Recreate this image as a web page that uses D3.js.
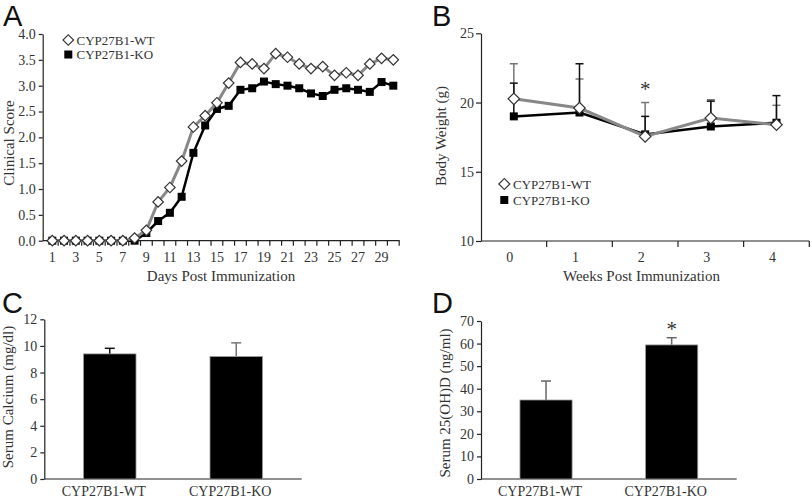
<!DOCTYPE html>
<html><head><meta charset="utf-8">
<script src="https://cdn.jsdelivr.net/npm/d3@7"></script>
<style>
body{margin:0;background:#fff;}
text{font-family:"Liberation Serif","Times New Roman",serif;fill:#333;}
.plab{font-family:"Liberation Sans",Arial,sans-serif;fill:#111;}
</style></head>
<body><svg id="c" width="812" height="500"></svg>
<script>
// ---- Panel A data ----
const days = d3.range(1, 31);
const dayLabels = [1,3,5,7,9,11,13,15,17,19,21,23,25,27,29];
const scoreWT = [0,0,0,0,0,0,0,0.05,0.2,0.75,1.03,1.54,2.2,2.42,2.67,3.05,3.45,3.42,3.33,3.62,3.55,3.42,3.33,3.37,3.2,3.25,3.2,3.42,3.53,3.5];
const scoreKO = [0,0,0,0,0,0,0,0,0.15,0.38,0.54,0.85,1.7,2.23,2.55,2.61,2.92,2.95,3.08,3.03,3.0,2.95,2.85,2.8,2.92,2.95,2.92,2.88,3.07,3.0];
const scoreTicks = [0,0.5,1,1.5,2,2.5,3,3.5,4];
// ---- Panel B data ----
const weeks = [0,1,2,3,4];
const weightWT = [20.27,19.6,17.55,18.88,18.4];
const weightKO = [19.0,19.28,17.7,18.27,18.54];
const weightWTTop = [22.8,21.7,20.0,20.2,19.8];
const weightKOTop = [21.4,22.8,19.0,20.1,20.5];
const weightTicks = [10,15,20,25];
// ---- Panel C/D data ----
const groups = ["CYP27B1-WT","CYP27B1-KO"];
const calcium = [9.4,9.2];
const calciumTop = [9.82,10.23];
const calciumTicks = [0,2,4,6,8,10,12];
const vitD = [35.0,59.4];
const vitDTop = [43.4,62.6];
const vitDTicks = [0,10,20,30,40,50,60,70];

const svg = d3.select("#c");
const AX = "#222";
const diamond = d3.symbol().type(d3.symbolSquare);

function styleAxis(g){
  g.select(".domain").attr("stroke", AX).attr("stroke-width",1.2);
  g.selectAll(".tick line").attr("stroke", AX).attr("stroke-width",1.2);
  g.selectAll(".tick text").attr("font-size",14).attr("fill","#333")
   .attr("font-family","Liberation Serif, serif");
}
function drawDiamond(g, x, y, d, stroke){
  g.append("path").attr("d", diamond.size(d*d/2)())
   .attr("transform",`translate(${x},${y}) rotate(45)`)
   .attr("fill","#fff").attr("stroke",stroke).attr("stroke-width",1.2);
}
function drawSquare(g,x,y,s){
  g.append("rect").attr("x",x-s/2).attr("y",y-s/2).attr("width",s).attr("height",s).attr("fill","#000");
}

// ================= Panel A =================
{
  const g = svg.append("g");
  const x = d3.scalePoint().domain(days).range([52.3, 393.3]);
  const y = d3.scaleLinear().domain([0,4]).range([240.7, 34]);
  const step = x.step();
  const ya = g.append("g").attr("transform","translate(42.7,0)")
    .call(d3.axisLeft(y).tickValues(scoreTicks).tickFormat(d3.format(".1f")).tickSize(4).tickPadding(3).tickSizeOuter(0));
  styleAxis(ya);
  g.append("line").attr("x1",42.7).attr("x2",x(30)+step/2+0.5).attr("y1",y(0)).attr("y2",y(0)).attr("stroke",AX).attr("stroke-width",1.2);
  g.selectAll(".xt").data(days).join("line")
    .attr("x1",d=>x(d)+step/2).attr("x2",d=>x(d)+step/2).attr("y1",y(0)).attr("y2",y(0)+5)
    .attr("stroke",AX).attr("stroke-width",1.2);
  g.selectAll(".xl").data(dayLabels).join("text")
    .attr("x",d=>x(d)).attr("y",262).attr("text-anchor","middle").attr("font-size",14).text(d=>d);
  g.append("text").attr("x",221).attr("y",281).attr("text-anchor","middle").attr("font-size",15).text("Days Post Immunization");
  g.append("text").attr("transform","translate(14,143) rotate(-90)").attr("text-anchor","middle").attr("font-size",15).text("Clinical Score");
  const line = d3.line().x((d,i)=>x(days[i])).y(d=>y(d));
  g.append("path").attr("d",line(scoreKO)).attr("fill","none").attr("stroke","#000").attr("stroke-width",2.5);
  scoreKO.forEach((v,i)=>drawSquare(g,x(days[i]),y(v),8));
  g.append("path").attr("d",line(scoreWT)).attr("fill","none").attr("stroke","#888").attr("stroke-width",3);
  scoreWT.forEach((v,i)=>drawDiamond(g,x(days[i]),y(v),10.5,"#333"));
  drawDiamond(g,68.3,40,10.5,"#333");
  g.append("text").attr("x",76.5).attr("y",44.5).attr("font-size",13).text(groups[0]);
  drawSquare(g,68.3,54.5,8);
  g.append("text").attr("x",76.5).attr("y",59).attr("font-size",13).text(groups[1]);
  svg.append("text").attr("class","plab").attr("x",3).attr("y",26).attr("font-size",29).text("A");
}

// ================= Panel B =================
{
  const g = svg.append("g");
  const x = d3.scaleBand().domain(weeks).range([481, 809.3]);
  const y = d3.scaleLinear().domain([10,25]).range([241, 33.3]);
  const cx = d => x(d) + x.bandwidth()/2;
  const ya = g.append("g").attr("transform","translate(481,0)")
    .call(d3.axisLeft(y).tickValues(weightTicks).tickSize(5).tickPadding(2).tickSizeOuter(0));
  styleAxis(ya);
  g.append("line").attr("x1",481).attr("x2",809.3).attr("y1",y(10)).attr("y2",y(10)).attr("stroke",AX).attr("stroke-width",1.2);
  g.selectAll(".xt").data(weeks).join("line")
    .attr("x1",d=>x(d)+x.bandwidth()).attr("x2",d=>x(d)+x.bandwidth()).attr("y1",y(10)).attr("y2",y(10)+6)
    .attr("stroke",AX).attr("stroke-width",1.2);
  g.selectAll(".xl").data(weeks).join("text")
    .attr("x",d=>cx(d)-4).attr("y",262).attr("text-anchor","middle").attr("font-size",14).text(d=>d);
  g.append("text").attr("x",641.5).attr("y",281).attr("text-anchor","middle").attr("font-size",15).text("Weeks Post Immunization");
  g.append("text").attr("transform","translate(446,136) rotate(-90)").attr("text-anchor","middle").attr("font-size",15).text("Body Weight (g)");
  function errbar(vals, tops, color){
    weeks.forEach((w,i)=>{
      g.append("line").attr("x1",cx(w)).attr("x2",cx(w)).attr("y1",y(vals[i])).attr("y2",y(tops[i])).attr("stroke",color).attr("stroke-width",1.5);
      g.append("line").attr("x1",cx(w)-4).attr("x2",cx(w)+4).attr("y1",y(tops[i])).attr("y2",y(tops[i])).attr("stroke",color).attr("stroke-width",1.5);
    });
  }
  errbar(weightWT, weightWTTop, "#777");
  errbar(weightKO, weightKOTop, "#111");
  const lineKO = d3.line().x((d,i)=>cx(weeks[i])).y(d=>y(d));
  g.append("path").attr("d",lineKO(weightKO)).attr("fill","none").attr("stroke","#000").attr("stroke-width",2.5);
  weightKO.forEach((v,i)=>drawSquare(g,cx(weeks[i]),y(v),8));
  g.append("path").attr("d",lineKO(weightWT)).attr("fill","none").attr("stroke","#888").attr("stroke-width",3);
  weightWT.forEach((v,i)=>drawDiamond(g,cx(weeks[i]),y(v),11.5,"#333"));
  g.append("text").attr("x",cx(2)).attr("y",y(21.2)+10).attr("text-anchor","middle").attr("font-size",21).text("*");
  drawDiamond(g,504.3,184,11,"#333");
  g.append("text").attr("x",513).attr("y",188.5).attr("font-size",13).text(groups[0]);
  drawSquare(g,504.3,200,8);
  g.append("text").attr("x",513).attr("y",204.5).attr("font-size",13).text(groups[1]);
  svg.append("text").attr("class","plab").attr("x",432).attr("y",26).attr("font-size",29).text("B");
}

// ================= Panels C & D =================
function barPanel(x0, x1, yTop, vals, tops, ticks, ymax, title, titleX, titleY, errColors, star, letter, letterX){
  const g = svg.append("g");
  const x = d3.scaleBand().domain(groups).range([x0, x1]).paddingInner(0.585).paddingOuter(0.31);
  const y = d3.scaleLinear().domain([0,ymax]).range([479, yTop]);
  const ya = g.append("g").attr("transform",`translate(${x0},0)`)
    .call(d3.axisLeft(y).tickValues(ticks).tickSize(4).tickPadding(3).tickSizeOuter(0));
  styleAxis(ya);
  g.append("line").attr("x1",x0).attr("x2",x1).attr("y1",y(0)).attr("y2",y(0)).attr("stroke",AX).attr("stroke-width",1.2);
  groups.forEach((k,i)=>{
    const cx = x(k)+x.bandwidth()/2;
    g.append("line").attr("x1",cx).attr("x2",cx).attr("y1",y(vals[i])).attr("y2",y(tops[i])).attr("stroke",errColors[i]).attr("stroke-width",1.5);
    g.append("line").attr("x1",cx-5).attr("x2",cx+5).attr("y1",y(tops[i])).attr("y2",y(tops[i])).attr("stroke",errColors[i]).attr("stroke-width",1.5);
    g.append("rect").attr("x",x(k)).attr("y",y(vals[i])).attr("width",x.bandwidth()).attr("height",y(0)-y(vals[i]))
      .attr("fill","#000").attr("stroke","#999").attr("stroke-width",0.8);
    g.append("text").attr("x",cx-6).attr("y",496).attr("text-anchor","middle").attr("font-size",14).text(k);
    if(star[i]) g.append("text").attr("x",cx).attr("y",y(tops[i])-2).attr("text-anchor","middle").attr("font-size",21).text("*");
  });
  g.append("text").attr("transform",`translate(${titleX},${titleY}) rotate(-90)`).attr("text-anchor","middle").attr("font-size",15).text(title);
  svg.append("text").attr("class","plab").attr("x",letterX).attr("y",313).attr("font-size",29).text(letter);
}
barPanel(44.3, 301.7, 319.3, calcium, calciumTop, calciumTicks, 12, "Serum Calcium (mg/dl)", 13, 397, ["#111","#777"], [false,false], "C", 2);
barPanel(481, 736.7, 321, vitD, vitDTop, vitDTicks, 70, "Serum 25(OH)D (ng/ml)", 450, 403, ["#666","#666"], [false,true], "D", 432);
</script></body></html>
